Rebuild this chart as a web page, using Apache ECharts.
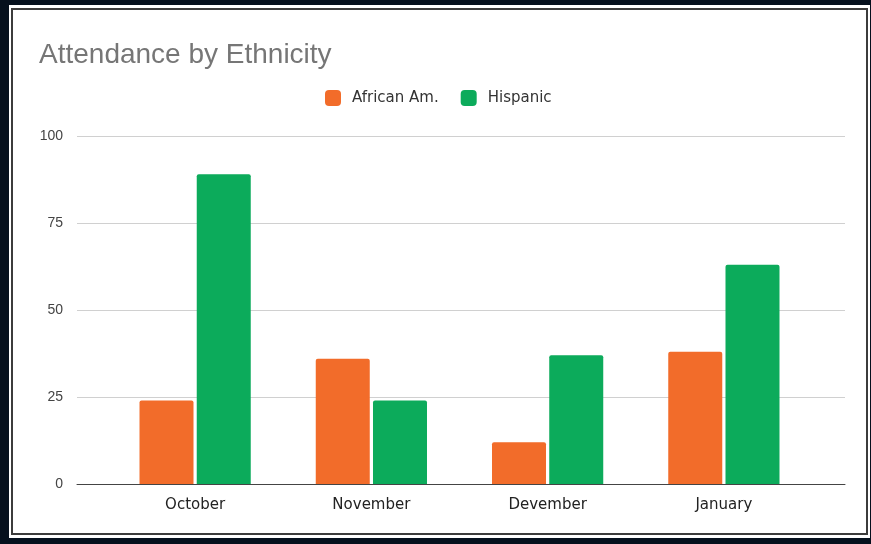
<!DOCTYPE html>
<html>
<head>
<meta charset="utf-8">
<script src="https://cdn.jsdelivr.net/npm/echarts@6/dist/echarts.min.js"></script>
<style>
  html, body { margin:0; padding:0; background:#05101d; width:871px; height:544px; overflow:hidden; }
  #panel { position:absolute; left:9px; top:5px; width:861px; height:533px; background:#fff; }
  #inner { position:absolute; left:11px; top:8px; width:857px; height:527px; box-sizing:border-box; border:2px solid #3c3c3c; background:#fff; }
  #chart { position:absolute; left:0; top:0; width:871px; height:544px; }
</style>
</head>
<body>
<div id="panel"></div>
<div id="inner"></div>
<div id="chart"></div>
<script>
const categories = ['October', 'November', 'Devember', 'January'];
const africanAm = [24, 36, 12, 38];
const hispanic = [89, 24, 37, 63];
const yTicks = [0, 25, 50, 75, 100];

const chart = echarts.init(document.getElementById('chart'), null, {renderer: 'canvas'});
chart.setOption({
  backgroundColor: 'transparent',
  animation: false,
  title: {
    text: 'Attendance by Ethnicity',
    left: 34, top: 36,
    textStyle: { fontFamily: 'Liberation Sans', fontSize: 28, fontWeight: 'normal', color: '#767676' }
  },
  legend: {
    left: 320, top: 85,
    itemWidth: 16, itemHeight: 16, itemGap: 22,
    icon: 'roundRect',
    textStyle: { fontFamily: 'DejaVu Sans', fontSize: 15, color: '#333', padding: [0, 0, 0, 6] },
    data: ['African Am.', 'Hispanic']
  },
  grid: [
    { left: 77, right: 26, top: 136, bottom: 60 },
    { left: 107, right: 59, top: 136, bottom: 60 }
  ],
  xAxis: [
    { gridIndex: 0, type: 'value', min: 0, max: 1,
      axisLine: { show: true, lineStyle: { color: '#444', width: 1 } },
      axisTick: { show: false }, axisLabel: { show: false }, splitLine: { show: false } },
    { gridIndex: 1, type: 'category', data: categories,
      axisLine: { show: false }, axisTick: { show: false },
      axisLabel: { margin: 14, fontFamily: 'DejaVu Sans', fontSize: 15, color: '#222' } }
  ],
  yAxis: [
    { gridIndex: 0, type: 'value', min: yTicks[0], max: yTicks[yTicks.length - 1], interval: 25,
      axisLine: { show: false }, axisTick: { show: false },
      axisLabel: { margin: 14, fontFamily: 'Liberation Sans', fontSize: 14, color: '#444' },
      splitLine: { lineStyle: { color: '#d0d0d0', width: 1 } } },
    { gridIndex: 1, type: 'value', min: 0, max: 100, show: false }
  ],
  series: [
    { name: 'African Am.', type: 'bar', xAxisIndex: 1, yAxisIndex: 1, data: africanAm,
      barWidth: 54, barGap: '6%', itemStyle: { color: '#f26c2a', borderRadius: [2, 2, 0, 0] } },
    { name: 'Hispanic', type: 'bar', xAxisIndex: 1, yAxisIndex: 1, data: hispanic,
      barWidth: 54, barGap: '6%', itemStyle: { color: '#0cab5b', borderRadius: [2, 2, 0, 0] } }
  ]
});
</script>
</body>
</html>
